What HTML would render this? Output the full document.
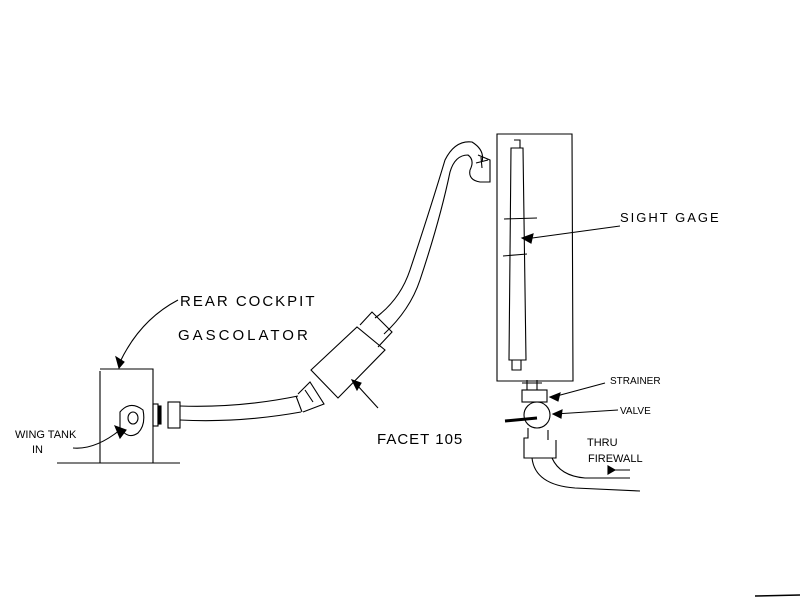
<!DOCTYPE html>
<html><head><style>
html,body{margin:0;padding:0;background:#fff;width:800px;height:600px;overflow:hidden}
svg{display:block}
text{font-family:"Liberation Sans",sans-serif;fill:#000;font-weight:300}
</style></head><body>
<svg width="800" height="600" viewBox="0 0 800 600" fill="none" stroke="#000" stroke-width="1.1">
<!-- gascolator -->
<path d="M100 369 L153 369 L153 463 M100 371 L100 463"/>
<path d="M57 463 L180 463"/>
<path d="M120 412 Q130 400 143 410 Q146 425 138 433 Q128 440 120 428 Z"/>
<ellipse cx="133" cy="418" rx="5" ry="6"/>
<rect x="153" y="404" width="5" height="22"/>
<rect x="158" y="406" width="3" height="18" fill="#000"/>
<rect x="168" y="402" width="12" height="26"/>
<path d="M180 406 Q240 408 298 396 M180 420 Q240 423 301 412"/>
<path d="M296 396 L302 412"/>
<!-- coupling -->
<path d="M298 394 L310 382 L324 404 L303 412"/>
<path d="M305 390 L313 402"/>
<!-- filter -->
<path d="M311 370 L357 327 L385 350 L338 398 Z"/>
<path d="M360 325 L372 312 L392 332 L378 347"/>
<path d="M375 318 Q400 300 410 270 Q430 210 445 160 Q455 140 472 142 Q485 150 482 162 M384 334 Q410 310 420 280 Q440 220 450 172 Q455 155 468 155 Q475 160 470 170"/>
<path d="M470 170 Q468 180 480 182 L490 182 L490 160 L478 155"/>
<path d="M476 163 L488 160 M481 157 L482 168"/>
<!-- arrow facet -->
<path d="M357 385 L378 408" />
<path d="M352 380 L357 390 L361 383 Z" fill="#000"/>
<!-- wing tank arrow -->
<path d="M73 448 Q95 450 120 430"/>
<path d="M115 426 L126 430 L120 438 Z" fill="#000"/>
<!-- rear cockpit arrow -->
<path d="M120 362 Q140 320 178 300"/>
<path d="M116 357 L124 362 L119 368 Z" fill="#000"/>
<!-- sight gage box -->
<path d="M497 134 L572 134 L573 381 L497 381 Z"/>
<path d="M511 148 L523 148 L526 360 L509 360 Z"/>
<path d="M514 140 L520 140 L520 148 M512 360 L512 370 L521 370 L521 360"/>
<path d="M504 219 L537 218 M503 256 L527 254"/>
<path d="M525 239 L620 226"/>
<path d="M522 238 L533 234 L531 243 Z" fill="#000"/>
<!-- strainer / valve -->
<path d="M522 383 L542 383 M527 380 L527 390 M537 380 L537 390"/>
<rect x="522" y="390" width="25" height="12"/>
<path d="M553 397 L605 383"/>
<path d="M550 397 L560 393 L558 401 Z" fill="#000"/>
<circle cx="537" cy="415" r="13"/>
<path d="M505 421 L537 418" stroke-width="3"/>
<path d="M555 414 L618 410"/>
<path d="M553 414 L562 410 L561 418 Z" fill="#000"/>
<path d="M528 428 L528 438 L524 438 L524 458 L556 458 L556 440 M548 430 L548 440"/>
<path d="M532 458 Q535 485 575 488 L640 491 M552 458 Q560 476 585 478 L630 478"/>
<path d="M611 470 L630 470" />
<path d="M608 466 L615 470 L608 474 Z" fill="#000"/>
<path d="M755 596 L800 595" stroke-width="1.5"/>
<g stroke="none">
<text x="180" y="306" font-size="15" letter-spacing="2">REAR COCKPIT</text>
<text x="178" y="340" font-size="15" letter-spacing="3">GASCOLATOR</text>
<text x="15" y="438" font-size="11">WING TANK</text>
<text x="32" y="453" font-size="11">IN</text>
<text x="377" y="444" font-size="15" letter-spacing="1">FACET 105</text>
<text x="620" y="222" font-size="13" letter-spacing="2">SIGHT GAGE</text>
<text x="610" y="384" font-size="10">STRAINER</text>
<text x="620" y="414" font-size="10">VALVE</text>
<text x="587" y="446" font-size="11">THRU</text>
<text x="588" y="462" font-size="11">FIREWALL</text>
</g>
</svg>
</body></html>
